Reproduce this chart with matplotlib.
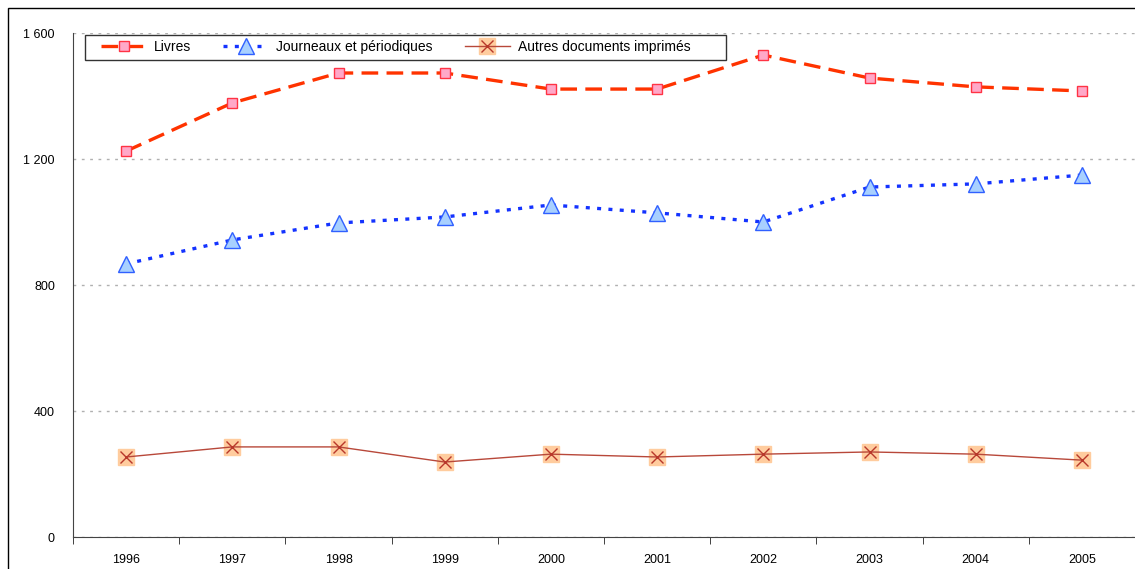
import numpy as np
import matplotlib.pyplot as plt
from matplotlib.patches import Rectangle
from matplotlib.legend_handler import HandlerTuple

plt.rcParams['font.family'] = ['Liberation Sans', 'DejaVu Sans']

years = ['1996', '1997', '1998', '1999', '2000', '2001', '2002', '2003', '2004', '2005']
livres = [1225, 1378, 1473, 1473, 1422, 1422, 1530, 1457, 1429, 1416]
journaux = [867, 943, 997, 1016, 1054, 1029, 1000, 1111, 1121, 1149]
autres = [254, 286, 286, 238, 263, 254, 263, 270, 263, 244]
yticks = [0, 400, 800, 1200, 1600]
ytick_labels = ['0', '400', '800', '1 200', '1 600']

W, H = 1135, 569
fig = plt.figure(figsize=(W / 100, H / 100), dpi=100)
ax = fig.add_axes([73 / W, 1 - 537 / H, (W - 73) / W, (537 - 33) / H])

# outer chart frame
fig.patches.append(Rectangle((8 / W, -0.1), 1.2, 1 - 8 / H + 0.1, transform=fig.transFigure,
                             fill=False, edgecolor='black', linewidth=1.0))

x = np.arange(len(years))

l1, = ax.plot(x, livres, color='#FF3300', linewidth=2.4, dashes=(5, 2.5),
              marker='s', markersize=7, markerfacecolor='#FFA8C8',
              markeredgecolor='#FF3344', markeredgewidth=1.0, zorder=4)
l2, = ax.plot(x, journaux, color='#1433FF', linewidth=2.4, dashes=(1.2, 2.2),
              marker='^', markersize=11, markerfacecolor='#A8D0FF',
              markeredgecolor='#3060FF', markeredgewidth=1.0, zorder=4)
bg, = ax.plot(x, autres, linestyle='none', marker='s', markersize=11,
              markerfacecolor='#FFCC9E', markeredgecolor='#FFCC9E', zorder=3)
l3, = ax.plot(x, autres, color='#B8483A', linewidth=1.0,
              marker='x', markersize=9, markeredgecolor='#B8382A',
              markeredgewidth=1.0, zorder=4)

ax.set_xlim(-0.5, len(years) - 0.5)
ax.set_ylim(0, 1600)
ax.set_yticks(yticks)
ax.set_yticklabels(ytick_labels)
ax.set_xticks(x)
ax.set_xticklabels(years)
ax.set_xticks(np.arange(-0.5, len(years)), minor=True)
ax.tick_params(axis='x', which='major', length=0, pad=12, labelsize=9)
ax.tick_params(axis='x', which='minor', length=5, direction='out', color='#222222')
ax.tick_params(axis='y', length=0, pad=13, labelsize=9)

ax.grid(axis='y', color='#B0B0B0', linestyle=(0, (2, 4)), linewidth=1.0)
ax.set_axisbelow(True)
for s in ['top', 'right']:
    ax.spines[s].set_visible(False)
ax.spines['left'].set_color('#444444')
ax.spines['bottom'].set_color('#444444')

# legend box drawn separately so it can be wider than the entries
box = Rectangle((85 / W, 1 - 60 / H), (726 - 85) / W, 25 / H, transform=fig.transFigure,
                facecolor='white', edgecolor='#333333', linewidth=1.0, zorder=5)
fig.patches.append(box)

leg = fig.legend([l1, l2, (bg, l3)],
                 ['Livres', 'Journeaux et périodiques', 'Autres documents imprimés'],
                 handler_map={tuple: HandlerTuple(ndivide=1)},
                 loc='center left', bbox_to_anchor=(101 / W, 1 - 47 / H), ncol=3,
                 fontsize=10, frameon=False, handlelength=3.24, columnspacing=2.3,
                 borderpad=0, handletextpad=0.58, borderaxespad=0, numpoints=1)
leg.set_zorder(6)

fig.savefig('out.png', dpi=100)
